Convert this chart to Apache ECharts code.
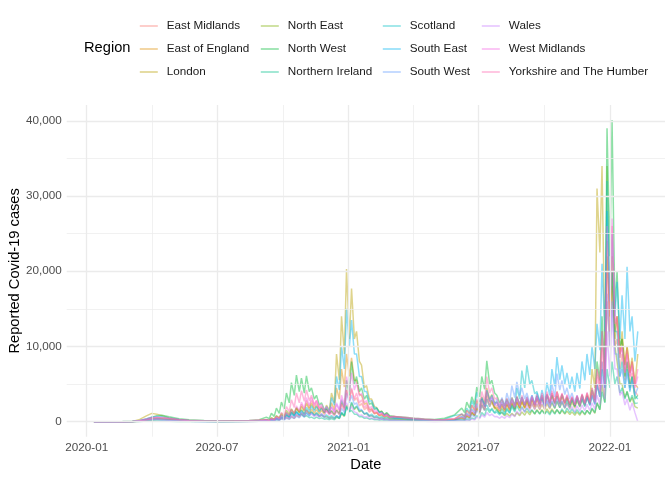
<!DOCTYPE html>
<html><head><meta charset="utf-8">
<script src="https://cdn.jsdelivr.net/npm/echarts/dist/echarts.min.js"></script>
<style>html,body{margin:0;padding:0;background:#fff}#chart{width:672px;height:480px}</style>
</head><body><div id="chart"></div>
<script>
// ---------- data ----------
const dates = [
 // spring/summer 2020
 '2020-01-11','2020-01-30','2020-02-20','2020-03-05','2020-03-15','2020-03-25','2020-04-01','2020-04-08','2020-04-15','2020-04-25','2020-05-09','2020-05-23','2020-06-13','2020-07-04','2020-07-25','2020-08-15','2020-08-29',
 // autumn/winter 2020-21 (weekly high / low)
 '2020-09-08','2020-09-12','2020-09-15','2020-09-19','2020-09-22','2020-09-26','2020-09-29','2020-10-03','2020-10-06','2020-10-10',
 '2020-10-13','2020-10-17','2020-10-20','2020-10-24','2020-10-27','2020-10-31','2020-11-03','2020-11-07','2020-11-10','2020-11-14',
 '2020-11-17','2020-11-21','2020-11-24','2020-11-28','2020-12-01','2020-12-05','2020-12-08','2020-12-12','2020-12-15','2020-12-19',
 '2020-12-22','2020-12-26','2020-12-29','2021-01-02','2021-01-05','2021-01-09','2021-01-12','2021-01-16','2021-01-19','2021-01-23',
 '2021-01-26','2021-01-30','2021-02-02','2021-02-06','2021-02-09','2021-02-13','2021-02-16','2021-02-20','2021-02-23','2021-02-27',
 // spring 2021
 '2021-03-06','2021-03-20','2021-04-03','2021-04-17','2021-05-01','2021-05-15','2021-05-29',
 // summer 2021 - winter 2022 (weekly high / low)
 '2021-06-08','2021-06-12','2021-06-15','2021-06-19','2021-06-22','2021-06-26','2021-06-29','2021-07-03','2021-07-06','2021-07-10',
 '2021-07-13','2021-07-17','2021-07-20','2021-07-24','2021-07-27','2021-07-31','2021-08-03','2021-08-07','2021-08-10','2021-08-14',
 '2021-08-17','2021-08-21','2021-08-24','2021-08-28','2021-08-31','2021-09-04','2021-09-07','2021-09-11','2021-09-14','2021-09-18',
 '2021-09-21','2021-09-25','2021-09-28','2021-10-02','2021-10-05','2021-10-09','2021-10-12','2021-10-16','2021-10-19','2021-10-23',
 '2021-10-26','2021-10-30','2021-11-02','2021-11-06','2021-11-09','2021-11-13','2021-11-16','2021-11-20','2021-11-23','2021-11-27',
 '2021-11-30','2021-12-04','2021-12-07','2021-12-11','2021-12-14','2021-12-18','2021-12-21','2021-12-25','2021-12-28','2022-01-01',
 '2022-01-04','2022-01-08','2022-01-11','2022-01-15','2022-01-18','2022-01-22','2022-01-25','2022-01-29','2022-02-01','2022-02-05',
 '2022-02-09'
];

const eastMidlands = [
 0,0,2,8,70,200,300,350,350,300,200,150,120,100,120,100,120,
 150,100, 250,160, 400,260, 600,400, 900,600,  1300,850, 1800,1200, 2300,1500, 2800,1850, 2800,1850,
 2400,1600, 1900,1250, 1600,1050, 1500,1000, 1700,1100,  2500,1650, 4200,2800, 4300,2800, 3200,2100, 2400,1600,
 1900,1250, 1500,1000, 1200,800, 1000,650, 850,550,
 600,450,350,250,200,200,300,
 600,400, 900,600, 1300,850, 1800,1200, 2400,1600,  3400,2300, 2800,1850, 2200,1450, 2300,1500, 2400,1600,
 2600,1700, 2800,1850, 2900,1900, 2900,1900, 3000,2000,  3100,2050, 3200,2100, 3400,2250, 3500,2300, 3500,2300,
 3300,2200, 3100,2050, 3000,2000, 3200,2100, 3300,2200,  3400,2250, 3700,2450, 5000,3300, 8000,4500, 16000,10000,
 18000,10000, 11000,7000, 9000,5500, 8000,5000, 6500,4000, 3500
];
const eastOfEngland = [
 0,0,3,15,120,300,450,500,450,350,200,100,50,30,50,60,80,
 150,100, 250,160, 350,230, 450,300, 550,360,  700,450, 900,600, 1100,700, 1500,1000, 1700,1100,
 1600,1050, 1500,1000, 1700,1100, 2500,1600, 4500,3000,  7000,4600, 9000,6000, 8500,5500, 5500,3600, 3500,2300,
 2500,1600, 1700,1100, 1200,800, 900,600, 700,450,
 400,300,200,150,120,130,200,
 500,330, 800,550, 1200,800, 1700,1150, 2200,1500,  3000,2000, 2600,1700, 1900,1300, 2000,1350, 2200,1450,
 2400,1600, 2600,1750, 2700,1800, 2800,1850, 2900,1950,  3000,2000, 3200,2100, 3600,2400, 3800,2500, 4000,2700,
 3600,2400, 3300,2200, 3200,2100, 3400,2250, 3600,2400,  3800,2500, 4500,3000, 7000,4800, 12000,6000, 24000,14000,
 22000,12000, 14000,9000, 11000,7500, 10000,6500, 8000,5000, 4500
];
const london = [
 0,0,5,30,300,800,1100,1000,800,500,250,120,60,50,80,100,150,
 300,200, 500,300, 700,450, 900,600, 1200,800,  1600,1000, 1900,1300, 2000,1400, 2400,1600, 2400,1600,
 2100,1400, 1800,1200, 2200,1500, 3800,2500, 9000,5500,  14000,9000, 20300,11000, 17700,11000, 12000,8000, 7500,4500,
 4800,3000, 3000,2000, 1900,1300, 1400,900, 1100,700,
 700,500,300,250,200,250,350,
 1000,700, 1500,1000, 2200,1500, 2800,1900, 3300,2300,  4500,3000, 3600,2500, 2600,1800, 2300,1600, 2400,1700,
 2500,1700, 2600,1800, 2600,1800, 2500,1700, 2400,1650,  2300,1600, 2300,1600, 2400,1700, 2500,1750, 2700,1850,
 2600,1800, 2500,1750, 2600,1800, 2800,1950, 3000,2100,  3500,2500, 7000,4500, 31000,22500, 34000,10000, 22000,14000,
 20000,11000, 14000,8500, 12000,7500, 10000,6500, 8500,5000, 9000
];
const northEast = [
 0,0,1,5,40,150,250,300,300,250,150,80,40,20,30,40,70,
 250,160, 500,320, 800,520, 1100,700, 1500,1000,  1700,1100, 1800,1200, 1600,1050, 1600,1050, 1300,850,
 1100,700, 900,600, 700,450, 600,400, 700,450,  1100,700, 2200,1400, 2500,1600, 2000,1300, 1500,1000,
 1100,700, 800,520, 600,400, 500,320, 400,260,
 300,250,150,100,70,100,250,
 400,260, 700,450, 1200,800, 2000,1300, 3000,2000,  4000,2700, 2800,1900, 1600,1100, 1200,800, 1100,750,
 1100,750, 1200,800, 1300,850, 1400,900, 1500,1000,  1600,1050, 1600,1050, 1700,1100, 1700,1100, 1600,1050,
 1500,1000, 1400,950, 1300,850, 1300,850, 1400,900,  1500,1000, 1700,1100, 2500,1600, 5000,2600, 34000,12000,
 20000,10000, 8000,5000, 5000,3200, 4000,2600, 3200,2000, 1800
];
const northWest = [
 0,0,2,10,100,350,600,800,850,650,400,250,150,120,100,150,250,
 600,400, 1100,700, 1800,1100, 2600,1700, 3800,2500,  5200,3500, 6200,4000, 5800,3800, 6100,4000, 4500,3000,
 3500,2200, 2500,1600, 1700,1100, 1400,900, 1500,1000,  2800,1900, 5500,3500, 8000,5000, 6000,4000, 4500,3000,
 3500,2300, 2500,1600, 1800,1200, 1400,900, 1200,800,
 700,600,450,350,300,450,900,
 1800,1200, 2600,1800, 3300,2300, 4600,3300, 6000,4300,  8100,5000, 5500,3800, 3500,2500, 3000,2100, 3000,2100,
 3200,2200, 3300,2300, 3200,2200, 3000,2100, 3200,2200,  3400,2400, 3500,2400, 3600,2500, 3500,2400, 3400,2300,
 3600,2500, 3300,2300, 3100,2100, 3300,2300, 3500,2400,  3400,2300, 4200,2900, 8000,5500, 14000,6000, 39000,22000,
 40100,15000, 20000,10000, 11000,6000, 8000,4500, 6000,3000, 3500
];
const northernIreland = [
 0,0,1,5,30,100,120,100,80,40,20,10,5,5,15,30,50,
 100,60, 200,130, 300,200, 500,330, 900,600,  1200,800, 1300,850, 1000,650, 800,520, 600,400,
 600,400, 500,330, 400,260, 400,260, 600,400,  1200,800, 2000,1300, 1500,1000, 1000,650, 700,450,
 500,330, 400,260, 300,200, 250,160, 200,130,
 150,100,80,80,60,80,150,
 200,130, 300,200, 500,330, 800,520, 1200,800,  1800,1200, 1800,1200, 1600,1050, 1700,1100, 1800,1200,
 2000,1300, 2100,1400, 2000,1300, 1800,1200, 1600,1050,  1500,1000, 1500,1000, 1400,900, 1500,1000, 1600,1050,
 1700,1100, 1800,1200, 1700,1100, 1600,1050, 1500,1000,  1500,1000, 1800,1200, 2500,1600, 4000,2500, 7000,4500,
 8000,5000, 6000,3800, 4500,3000, 4000,2700, 3500,2400, 2500
];
const scotland = [
 0,0,1,10,100,300,400,400,350,250,150,60,20,5,20,50,120,
 200,130, 350,230, 500,330, 800,520, 1100,700,  1300,850, 1400,900, 1300,850, 1200,800, 1300,850,
 1200,800, 1000,650, 900,600, 800,520, 800,520,  1200,800, 2000,1300, 2600,1700, 2100,1400, 1500,1000,
 1200,800, 1000,650, 800,520, 700,450, 600,400,
 500,450,350,250,200,300,800,
 1000,650, 1800,1200, 2800,1900, 3900,2600, 3000,2000,  2200,1500, 1600,1100, 1300,900, 1300,900, 1600,1100,
 2200,1500, 4500,3000, 6800,4500, 7500,5000, 5500,3700,  4000,2700, 3000,2000, 2800,1900, 2700,1800, 2800,1850,
 2700,1800, 2800,1900, 3000,2000, 3000,2000, 3000,2000,  3200,2150, 3500,2300, 5000,3300, 7000,4500, 32000,16000,
 20000,12000, 12000,6000, 8000,4500, 7000,4000, 6000,3500, 3000
];
const southEast = [
 0,0,5,20,150,400,600,700,650,500,300,150,60,30,40,60,100,
 200,130, 300,200, 450,300, 600,400, 800,500,  1000,650, 1200,800, 1500,1000, 1900,1300, 2100,1400,
 2000,1300, 1800,1200, 2000,1300, 3200,2200, 6000,4200,  10000,7000, 15000,10000, 13500,9000, 9000,6000, 6000,4000,
 4000,2700, 2800,1800, 1800,1200, 1300,850, 1000,650,
 500,350,250,150,120,120,200,
 700,450, 1100,750, 1700,1150, 2400,1600, 3200,2100,  4200,2800, 3500,2300, 2600,1750, 2600,1700, 2800,1850,
 3000,2000, 3200,2100, 3300,2200, 3300,2200, 3500,2300,  3800,2500, 4200,2800, 5200,3500, 7000,4700, 8600,5600,
 7500,5000, 6500,4400, 6000,4000, 6500,4400, 8000,5500,  9000,6200, 10000,7000, 13000,9500, 21000,12000, 28000,16000,
 25000,14000, 18600,11000, 16800,11000, 20600,12000, 14000,8000, 12000
];
const southWest = [
 0,0,2,8,60,150,250,250,200,150,80,40,20,15,25,40,50,
 80,50, 150,100, 250,160, 350,230, 450,300,  600,400, 750,500, 900,600, 1100,700, 1200,800,
 1000,650, 800,520, 600,400, 600,400, 800,520,  1800,1200, 3800,2500, 3500,2300, 2500,1600, 1600,1050,
 1100,700, 800,520, 600,400, 450,300, 350,230,
 250,150,100,80,60,70,150,
 300,200, 500,330, 900,600, 1500,1000, 2200,1450,  3000,2000, 3200,2100, 3000,2000, 3200,2100, 3800,2500,
 4800,3200, 5300,3500, 4500,3000, 3800,2500, 3500,2300,  3300,2200, 3200,2100, 3500,2300, 5000,3300, 6400,4200,
 5500,3600, 4500,3000, 3800,2500, 3500,2300, 3300,2200,  3300,2200, 3500,2300, 5000,3300, 8000,4500, 17000,10000,
 16000,9000, 9000,6000, 7000,4500, 6500,4200, 5500,3500, 4500
];
const wales = [
 0,0,1,10,80,250,300,350,300,200,120,60,20,10,15,20,40,
 150,100, 250,160, 350,230, 500,330, 600,400,  800,520, 1000,650, 1200,800, 1500,1000, 1000,650,
 900,600, 1100,700, 1500,1000, 2000,1300, 2500,1600,  3000,2000, 2500,1600, 2000,1300, 1200,800, 900,600,
 700,450, 500,330, 400,260, 350,230, 300,200,
 150,100,60,40,30,40,80,
 100,60, 200,130, 350,230, 600,400, 900,600,  1200,800, 1000,650, 700,450, 700,450, 800,520,
 1000,650, 1400,900, 1900,1250, 2200,1450, 2400,1600,  2500,1650, 2600,1700, 2800,1850, 3000,2000, 3200,2100,
 2800,1850, 2400,1600, 2000,1300, 2100,1400, 2200,1450,  2300,1500, 2500,1650, 3500,2300, 6000,3000, 12000,6000,
 15000,7000, 7000,3500, 4000,2200, 3000,1500, 2500,1200, 0
];
const westMidlands = [
 0,0,2,15,150,400,550,600,500,400,250,120,60,50,60,80,120,
 250,160, 400,260, 600,400, 800,520, 1200,800,  1600,1050, 2100,1400, 2600,1700, 3200,2100, 3200,2100,
 2800,1800, 2300,1500, 2000,1300, 1900,1250, 2300,1500,  3500,2300, 6000,4000, 6500,4200, 5200,3400, 3800,2500,
 2800,1800, 2000,1300, 1500,1000, 1200,800, 1000,650,
 700,500,350,250,200,250,400,
 600,400, 1000,650, 1500,1000, 2200,1450, 2900,1900,  4000,2600, 3300,2200, 2500,1650, 2500,1650, 2700,1800,
 2900,1900, 3100,2050, 3200,2100, 3100,2050, 3200,2100,  3300,2200, 3500,2300, 3700,2450, 3800,2500, 3900,2600,
 3700,2450, 3500,2300, 3300,2200, 3500,2300, 3700,2450,  3900,2600, 4500,3000, 7000,4800, 12000,6000, 26000,15000,
 27000,14000, 13000,8500, 10000,6500, 9000,6000, 7500,4500, 6000
];
const yorkshire = [
 0,0,2,10,80,250,450,550,550,450,300,200,120,100,120,150,250,
 250,160, 400,260, 700,450, 1200,800, 2000,1300,  2900,1900, 3800,2500, 4100,2700, 4200,2800, 3500,2300,
 2800,1800, 2000,1300, 1400,900, 1200,800, 1400,900,  2300,1500, 4200,2800, 4500,3000, 3800,2500, 2900,1900,
 2200,1400, 1700,1100, 1300,850, 1100,700, 950,600,
 700,600,450,350,250,250,400,
 1000,650, 1500,1000, 2200,1450, 3000,2000, 4000,2700,  6000,3800, 4500,3000, 3200,2100, 3000,2000, 3100,2050,
 3200,2100, 3400,2250, 3500,2300, 3300,2200, 3400,2250,  3600,2400, 3800,2500, 4000,2650, 4100,2700, 4000,2650,
 3800,2500, 3600,2400, 3300,2200, 3400,2250, 3600,2400,  3700,2450, 4000,2650, 6000,4000, 10000,5000, 20000,12000,
 26000,13000, 14000,9000, 10000,6500, 9500,6000, 8000,4800, 7000
];

const regions = ['East Midlands','East of England','London','North East','North West','Northern Ireland',
  'Scotland','South East','South West','Wales','West Midlands','Yorkshire and The Humber'];
const regionValues = [eastMidlands,eastOfEngland,london,northEast,northWest,northernIreland,
  scotland,southEast,southWest,wales,westMidlands,yorkshire];
const yTicks = [0,10000,20000,30000,40000];
const yMinor = [5000,15000,25000,35000];
const xTicks = ['2020-01-01','2020-07-01','2021-01-01','2021-07-01','2022-01-01'];
const xMinor = ['2020-04-01','2020-10-01','2021-04-01','2021-10-01'];
const xRange = ['2019-12-04','2022-03-19'];

// ---------- styling ----------
const palette = ['#F8766D','#DE8C00','#B79F00','#7CAE00','#00BA38','#00C08B','#00BFC4','#00B4F0','#619CFF','#C77CFF','#F564E3','#FF64B0'];
function rgba(hex,a){const n=parseInt(hex.slice(1),16);return 'rgba('+(n>>16)+','+((n>>8)&255)+','+(n&255)+','+a+')';}
const FONT = '"Liberation Sans", Arial, Helvetica, sans-serif';
const EPOCH = Date.UTC(2020,0,1);
// x values are day numbers counted from 2020-01-01
const day = s => Math.round((Date.parse(s) - EPOCH) / 86400000);
const GRID = '#EBEBEB';

const chart = echarts.init(document.getElementById('chart'), null, {renderer:'canvas'});

const gridLines = [];
yTicks.forEach(v=>gridLines.push({yAxis:v, lineStyle:{color:GRID,width:1.3,type:'solid'}}));
yMinor.forEach(v=>gridLines.push({yAxis:v, lineStyle:{color:GRID,width:0.7,type:'solid'}}));
xTicks.forEach(d=>gridLines.push({xAxis:day(d), lineStyle:{color:GRID,width:1.3,type:'solid'}}));
xMinor.forEach(d=>gridLines.push({xAxis:day(d), lineStyle:{color:GRID,width:0.7,type:'solid'}}));

const series = [{
  name:'_grid', type:'line', data:[[day('2020-01-11'),0]], symbol:'none', silent:true,
  lineStyle:{opacity:0}, z:1,
  markLine:{silent:true, symbol:['none','none'], label:{show:false}, animation:false, data:gridLines}
}];
regions.forEach((r,i)=>{
  const vals = regionValues[i];
  const n = Math.min(vals.length, dates.length);
  const data = [];
  for(let k=0;k<n;k++) data.push([day(dates[k]), vals[k]]);
  series.push({
    name:r, type:'line', data:data, symbol:'none', showSymbol:false, z:2,
    color: rgba(palette[i],0.45),
    lineStyle:{width:1.5, color: rgba(palette[i],0.45)},
    emphasis:{disabled:true}
  });
});

const cols = [regions.slice(0,3),regions.slice(3,6),regions.slice(6,9),regions.slice(9,12)];
const keyX = [139,260,382,481];
const legends = cols.map((names,i)=>({
  data:names, orient:'vertical', left:keyX[i], top:20, itemWidth:18, itemHeight:12, itemGap:11,
  selectedMode:false, padding:0,
  itemStyle:{opacity:0},
  lineStyle:{width:1.6},
  textStyle:{fontFamily:FONT, fontSize:11.7, color:'#1a1a1a', lineHeight:12, padding:[0,0,0,4]}
}));

chart.setOption({
  animation:false,
  backgroundColor:'#ffffff',
  textStyle:{fontFamily:FONT},
  grid:{left:66.7, right:7, top:105, bottom:43.3, containLabel:false, outerBoundsMode:'none'},
  legend:legends,
  graphic:[{type:'text', left:84, top:40, style:{text:'Region', font:'14.67px '+FONT, fill:'#000'}}],
  xAxis:{
    type:'value', min:day(xRange[0]), max:day(xRange[1]),
    axisLine:{show:false}, axisTick:{show:false}, splitLine:{show:false},
    axisLabel:{customValues:xTicks.map(day), color:'#4D4D4D', fontSize:11.7, margin:5, hideOverlap:false,
      formatter:function(v){const d=new Date(EPOCH + v*86400000);return d.getUTCFullYear()+'-'+String(d.getUTCMonth()+1).padStart(2,'0');}},
    name:'Date', nameLocation:'middle', nameGap:21, nameMoveOverlap:false,
    nameTextStyle:{fontSize:14.67, color:'#000', fontFamily:FONT}
  },
  yAxis:{
    type:'value', min:-2000, max:42100,
    axisLine:{show:false}, axisTick:{show:false}, splitLine:{show:false},
    axisLabel:{customValues:yTicks, color:'#4D4D4D', fontSize:11.7, margin:5,
      formatter:function(v){return Number(v).toLocaleString('en-US');}},
    name:'Reported Covid-19 cases', nameLocation:'middle', nameGap:44, nameRotate:90, nameMoveOverlap:false,
    nameTextStyle:{fontSize:14.67, color:'#000', fontFamily:FONT}
  },
  series:series
});
</script></body></html>
